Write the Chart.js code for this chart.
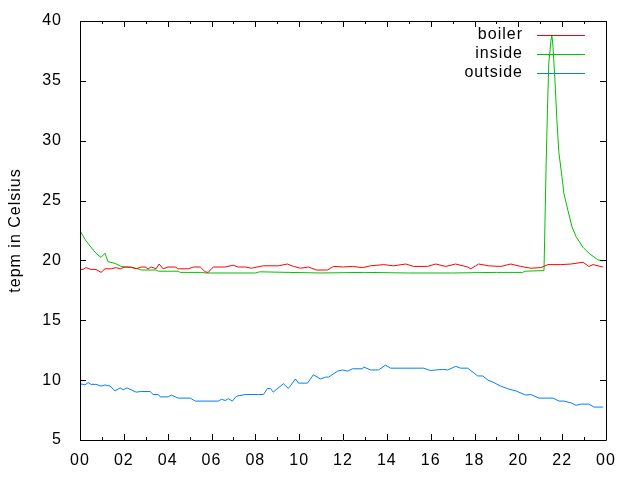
<!DOCTYPE html>
<html>
<head>
<meta charset="utf-8">
<script src="https://cdn.jsdelivr.net/npm/chart.js@4/dist/chart.umd.min.js"></script>
<style>
  html, body { margin: 0; padding: 0; background: #fff; }
  #wrap { width: 640px; height: 480px; }
</style>
</head>
<body>
<div id="wrap"><canvas id="chart" width="640" height="480"></canvas></div>
<script>
// hour of day -> temperature readings
const boilerHours = [0,0.14,0.27,0.5,0.73,0.96,1.14,1.42,1.65,1.83,2.06,2.33,2.56,2.79,2.97,3.11,3.25,3.47,3.61,3.79,4.02,4.34,4.48,4.94,5.17,5.49,5.71,5.85,6.08,6.63,6.99,7.22,7.54,7.82,8.37,9.05,9.46,9.74,10.06,10.42,10.79,11.29,11.57,12.02,12.43,12.89,13.26,13.85,14.31,14.86,15.22,15.86,16.23,16.69,17.14,17.69,17.83,18.19,18.65,19.2,19.66,20.11,20.57,21.03,21.35,21.94,22.4,22.95,23.22,23.41,23.86];
const boilerTemps = [19.25,19.25,19.4,19.25,19.25,19.0,19.3,19.3,19.4,19.3,19.45,19.45,19.3,19.45,19.45,19.3,19.45,19.3,19.7,19.3,19.45,19.45,19.3,19.3,19.45,19.45,19.05,19.0,19.45,19.45,19.6,19.45,19.45,19.35,19.55,19.55,19.7,19.5,19.35,19.45,19.2,19.2,19.5,19.45,19.5,19.4,19.55,19.65,19.55,19.7,19.5,19.5,19.7,19.5,19.7,19.45,19.3,19.7,19.55,19.5,19.7,19.5,19.35,19.4,19.65,19.65,19.7,19.85,19.5,19.65,19.45];

const insideHours = [0,0.23,0.46,0.73,0.96,1.14,1.28,1.6,1.87,2.56,2.79,3.47,3.57,4.48,4.57,5.53,5.71,8.0,8.2,9.5,11.0,13.0,15.0,17.0,19.0,20.2,20.3,21.17,21.2,21.26,21.33,21.39,21.49,21.53,21.58,21.67,21.76,21.85,21.99,22.08,22.26,22.45,22.63,22.95,23.22,23.63,23.86];
const insideTemps = [22.5,21.75,21.2,20.6,20.25,20.6,19.9,19.75,19.5,19.35,19.2,19.2,19.1,19.1,19.0,19.0,18.95,18.95,19.05,19.0,18.95,19.0,18.95,18.95,19.0,19.0,19.1,19.15,21.7,27.3,32.6,36.5,38.4,38.8,37.9,35.1,31.7,29.0,27.0,25.6,24.2,22.8,22.0,21.1,20.6,20.05,19.95];

const outsideHours = [0,0.23,0.37,0.5,0.73,0.96,1.14,1.37,1.6,1.83,1.97,2.15,2.33,2.56,2.79,3.2,3.34,3.57,3.66,4.02,4.16,4.48,5.03,5.26,6.31,6.45,6.63,6.77,6.95,7.13,7.54,8.14,8.37,8.55,8.69,8.82,9.28,9.51,9.83,9.97,10.38,10.65,10.97,11.2,11.34,11.75,11.98,12.21,12.43,12.89,12.94,13.26,13.62,13.94,14.17,15.68,16.0,16.23,16.59,16.78,17.14,17.37,17.69,17.83,18.15,18.38,18.61,18.88,19.2,19.57,19.89,20.34,20.57,20.94,21.58,21.85,22.08,22.4,22.63,22.86,23.22,23.45,23.86];
const outsideTemps = [9.7,9.6,9.8,9.65,9.65,9.5,9.6,9.5,9.1,9.35,9.2,9.35,9.2,9.0,9.05,9.05,8.8,8.8,8.6,8.6,8.75,8.5,8.5,8.25,8.25,8.4,8.3,8.45,8.25,8.65,8.8,8.8,8.8,9.3,9.3,9.0,9.7,9.3,10.1,9.75,9.75,10.45,10.1,10.25,10.25,10.75,10.85,10.75,10.95,10.95,11.1,10.85,10.85,11.25,11.0,11.0,10.8,10.85,10.9,10.85,11.15,11.0,11.0,10.8,10.35,10.35,10.0,9.8,9.5,9.25,9.1,8.75,8.8,8.5,8.5,8.25,8.25,8.1,7.9,8.0,8.0,7.75,7.75];

const seriesNames = ['boiler', 'inside', 'outside'];
const seriesColors = ['#ff0000', '#00c000', '#0080ff'];
const yLabel = 'tepm in Celsius';

const FONT = '"Liberation Sans", Arial, sans-serif';

function pts(xs, ys) {
  return xs.map((x, i) => ({ x: x, y: ys[i] }));
}

// gnuplot text is a bit wider spaced; canvas resets drop it, so set it again
const spacingPlugin = {
  id: 'spacing',
  beforeLayout(chart) { chart.ctx.letterSpacing = '1px'; },
  beforeDraw(chart) { chart.ctx.letterSpacing = '1px'; }
};

// gnuplot style frame with inward ticks on all four sides + legend top right
const framePlugin = {
  id: 'frame',
  afterDatasetsDraw(chart) {
    const { ctx, chartArea: a, scales } = chart;
    ctx.save();
    ctx.strokeStyle = '#000';
    ctx.lineWidth = 1;
    ctx.beginPath();
    ctx.rect(a.left + 0.5, a.top + 0.5, a.right - a.left, a.bottom - a.top);
    for (let h = 0; h <= 24; h++) {
      const x = Math.round(scales.x.getPixelForValue(h)) + 0.5;
      const len = h % 2 === 0 ? 6 : 3;
      ctx.moveTo(x, a.bottom); ctx.lineTo(x, a.bottom - len);
      ctx.moveTo(x, a.top); ctx.lineTo(x, a.top + len);
    }
    for (let v = 5; v <= 40; v += 5) {
      const y = Math.round(scales.y.getPixelForValue(v)) + 0.5;
      ctx.moveTo(a.left, y); ctx.lineTo(a.left + 6, y);
      ctx.moveTo(a.right, y); ctx.lineTo(a.right - 6, y);
    }
    ctx.stroke();

    // legend
    ctx.font = '16px ' + FONT;
    ctx.textAlign = 'right';
    ctx.textBaseline = 'middle';
    chart.data.datasets.forEach((ds, i) => {
      const y = 35 + i * 19;
      ctx.fillStyle = '#000';
      ctx.fillText(ds.label, 523, y);
      ctx.strokeStyle = ds.borderColor;
      ctx.beginPath();
      ctx.moveTo(537, y + 0.5);
      ctx.lineTo(585, y + 0.5);
      ctx.stroke();
    });
    ctx.restore();
  }
};

new Chart(document.getElementById('chart').getContext('2d'), {
  type: 'line',
  data: {
    datasets: [
      { label: seriesNames[0], data: pts(boilerHours, boilerTemps), borderColor: seriesColors[0] },
      { label: seriesNames[1], data: pts(insideHours, insideTemps), borderColor: seriesColors[1] },
      { label: seriesNames[2], data: pts(outsideHours, outsideTemps), borderColor: seriesColors[2] }
    ]
  },
  options: {
    responsive: false,
    animation: false,
    layout: { padding: { top: 21, right: 34, left: 0, bottom: 0 } },
    elements: {
      line: { borderWidth: 1, tension: 0 },
      point: { radius: 0 }
    },
    plugins: {
      legend: { display: false },
      tooltip: { enabled: false }
    },
    scales: {
      x: {
        type: 'linear',
        min: 0,
        max: 24,
        grid: { display: false, drawTicks: false },
        border: { display: false },
        ticks: {
          stepSize: 2,
          padding: 11,
          color: '#000',
          maxRotation: 0,
          font: { family: FONT, size: 16 },
          callback: v => String(v % 24).padStart(2, '0')
        },
        afterFit: s => { s.height = 40; s.paddingLeft = 0; s.paddingRight = 0; }
      },
      y: {
        min: 5,
        max: 40,
        grid: { display: false, drawTicks: false },
        border: { display: false },
        ticks: {
          stepSize: 5,
          padding: 18,
          color: '#000',
          font: { family: FONT, size: 16 }
        },
        title: {
          display: true,
          text: yLabel,
          color: '#000',
          padding: { top: 6, bottom: 0 },
          font: { family: FONT, size: 16 }
        },
        afterFit: s => { s.width = 80; s.paddingTop = 0; s.paddingBottom = 0; }
      }
    }
  },
  plugins: [spacingPlugin, framePlugin]
});
</script>
</body>
</html>
